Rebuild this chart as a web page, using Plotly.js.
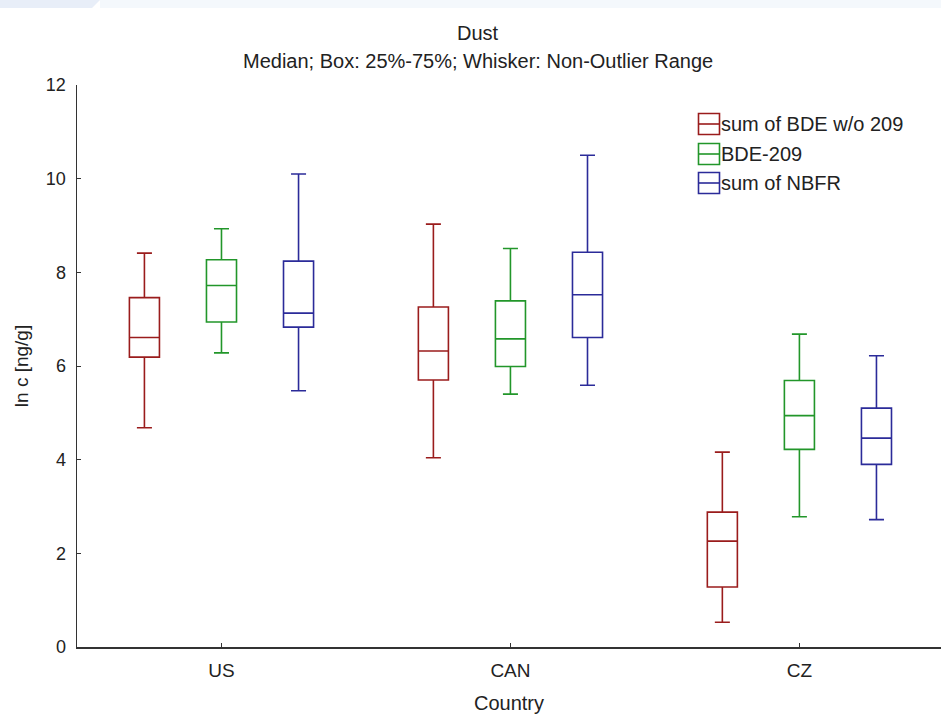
<!DOCTYPE html>
<html>
<head>
<meta charset="utf-8">
<script src="https://cdn.plot.ly/plotly-3.0.1.min.js"></script>
<style>html,body{margin:0;padding:0;background:#fff;}#chart{width:941px;height:714px;}</style>
</head>
<body>
<div id="chart"></div>
<script>
const countries = ['US', 'CAN', 'CZ'];
const seriesNames = ['sum of BDE w/o 209', 'BDE-209', 'sum of NBFR'];
const seriesColors = ['#9a1c1c', '#22962a', '#2b2b99'];

// per series: values for US, CAN, CZ
const lowerWhisker = [
  [4.68, 4.04, 0.53],
  [6.28, 5.40, 2.78],
  [5.47, 5.59, 2.72]
];
const q1Values = [
  [6.19, 5.70, 1.28],
  [6.94, 5.99, 4.22],
  [6.83, 6.61, 3.90]
];
const medianValues = [
  [6.61, 6.32, 2.26],
  [7.72, 6.58, 4.94],
  [7.13, 7.52, 4.46]
];
const q3Values = [
  [7.46, 7.26, 2.88],
  [8.27, 7.39, 5.69],
  [8.24, 8.43, 5.10]
];
const upperWhisker = [
  [8.41, 9.03, 4.16],
  [8.93, 8.51, 6.68],
  [10.10, 10.50, 6.22]
];

const fontFamily = '"Liberation Sans", Arial, sans-serif';
const textColor = '#222';

// layout geometry (pixels)
const W = 941, H = 714;
const M = {l: 77, r: 0, t: 85, b: 67};
const plotW = W - M.l - M.r, plotH = H - M.t - M.b;
const px = v => (v - M.l) / plotW;          // pixel x -> paper x
const py = v => (H - M.b - v) / plotH;      // pixel y -> paper y

const traces = seriesNames.map((name, i) => ({
  type: 'box',
  name: name,
  x: countries,
  q1: q1Values[i],
  median: medianValues[i],
  q3: q3Values[i],
  lowerfence: lowerWhisker[i],
  upperfence: upperWhisker[i],
  boxpoints: false,
  line: {color: seriesColors[i], width: 1.6},
  fillcolor: 'rgba(255,255,255,0)',
  whiskerwidth: 0.5,
  hoverinfo: 'skip',
  showlegend: false
}));

// custom legend (box-with-median icons)
const legendRowsY = [124, 154, 183];
const shapes = [];
const annotations = [];
seriesNames.forEach((name, i) => {
  const cy = legendRowsY[i];
  shapes.push({type: 'rect', xref: 'paper', yref: 'paper',
    x0: px(698.5), x1: px(719.5), y0: py(cy - 10.5), y1: py(cy + 10.5),
    line: {color: seriesColors[i], width: 1.6}, fillcolor: 'rgba(0,0,0,0)'});
  shapes.push({type: 'line', xref: 'paper', yref: 'paper',
    x0: px(698.5), x1: px(719.5), y0: py(cy), y1: py(cy),
    line: {color: seriesColors[i], width: 1.6}});
  annotations.push({xref: 'paper', yref: 'paper', x: px(719), y: py(cy),
    xanchor: 'left', yanchor: 'middle', showarrow: false, text: name,
    font: {family: fontFamily, size: 20, color: textColor}});
});

// faint band at the very top of the picture
shapes.unshift(
  {type: 'path', xref: 'paper', yref: 'paper', layer: 'below',
   path: `M ${px(0)} ${py(0)} L ${px(100)} ${py(0)} L ${px(92)} ${py(8)} L ${px(0)} ${py(8)} Z`,
   fillcolor: '#e8eef8', line: {width: 0}},
  {type: 'rect', xref: 'paper', yref: 'paper', layer: 'below',
   x0: px(100), x1: px(941), y0: py(0), y1: py(8),
   fillcolor: '#f4f8fc', line: {width: 0}}
);

// titles
annotations.push(
  {xref: 'paper', yref: 'paper', x: px(478), y: py(33), xanchor: 'center', yanchor: 'middle',
   showarrow: false, text: 'Dust', font: {family: fontFamily, size: 20, color: textColor}},
  {xref: 'paper', yref: 'paper', x: px(478), y: py(61), xanchor: 'center', yanchor: 'middle',
   showarrow: false, text: 'Median; Box: 25%-75%; Whisker: Non-Outlier Range',
   font: {family: fontFamily, size: 20, color: textColor}}
);

const layout = {
  width: W,
  height: H,
  margin: {l: M.l, r: M.r, t: M.t, b: M.b, pad: 0},
  paper_bgcolor: '#ffffff',
  plot_bgcolor: '#ffffff',
  font: {family: fontFamily, size: 18, color: textColor},
  boxmode: 'group',
  boxgap: 0.2,
  boxgroupgap: 0.61,
  xaxis: {
    type: 'category',
    range: [-0.5, 2.49],
    showgrid: false,
    zeroline: false,
    showline: true,
    linecolor: '#333',
    linewidth: 1.5,
    ticks: 'inside',
    ticklen: 4,
    tickcolor: '#333',
    tickfont: {family: fontFamily, size: 19, color: textColor},
    ticklabelstandoff: 6,
    title: {text: 'Country', font: {family: fontFamily, size: 20, color: textColor}, standoff: 15}
  },
  yaxis: {
    range: [0, 12],
    tickvals: [0, 2, 4, 6, 8, 10, 12],
    showgrid: false,
    zeroline: false,
    showline: true,
    linecolor: '#333',
    linewidth: 1.5,
    ticks: 'inside',
    ticklen: 4,
    tickcolor: '#333',
    tickfont: {family: fontFamily, size: 18, color: textColor},
    ticklabelstandoff: 6,
    title: {text: 'ln c [ng/g]', font: {family: fontFamily, size: 19, color: textColor}, standoff: 12}
  },
  shapes: shapes,
  annotations: annotations,
  showlegend: false
};

Plotly.newPlot('chart', traces, layout, {displayModeBar: false, staticPlot: true});
</script>
</body>
</html>
